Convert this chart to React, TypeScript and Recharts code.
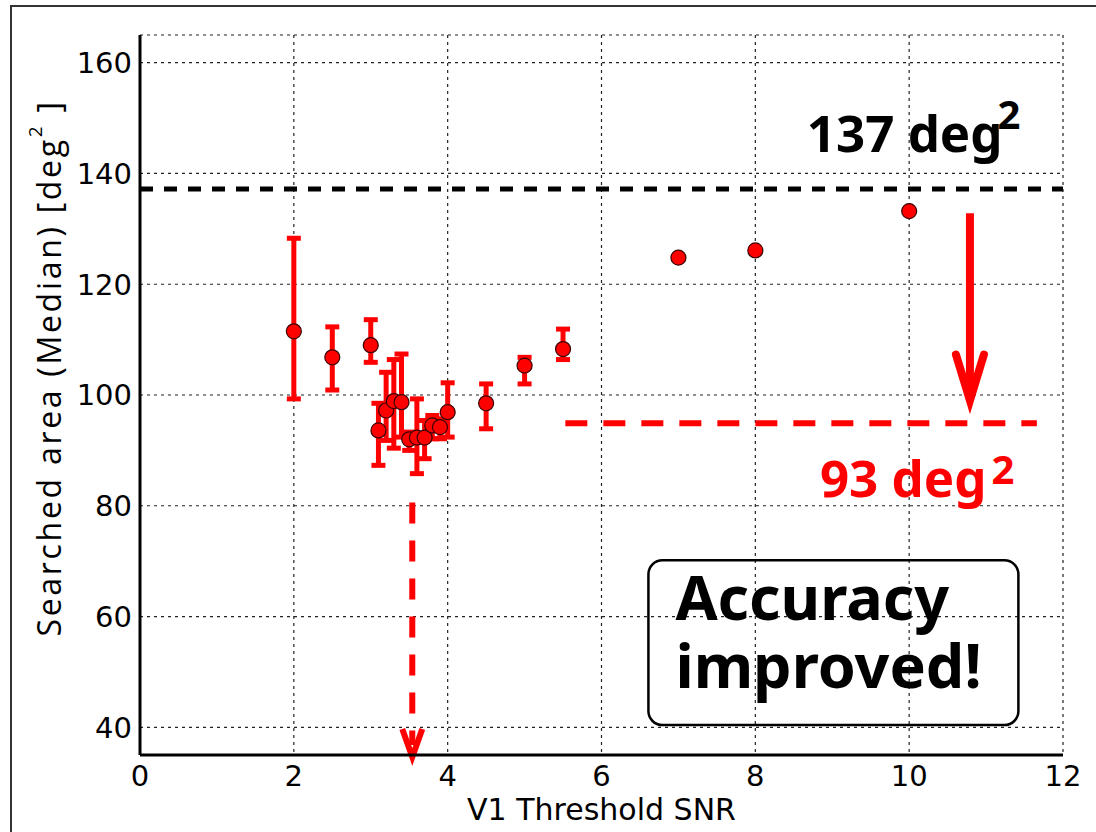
import React from "react";
import {
  ScatterChart,
  Scatter,
  ErrorBar,
  XAxis,
  YAxis,
  CartesianGrid,
  ReferenceLine,
  ReferenceDot,
  ReferenceArea,
  Label,
} from "recharts";

// V1 threshold SNR vs median searched area, with error bar bounds
const snr = [2, 2.5, 3, 3.1, 3.2, 3.3, 3.4, 3.5, 3.6, 3.7, 3.8, 3.9, 4, 4.5, 5, 5.5, 7, 8, 10];
const medianArea = [111.5, 106.8, 109.0, 93.6, 97.2, 98.9, 98.7, 92.0, 92.3, 92.3, 94.5, 94.2, 96.9, 98.5, 105.3, 108.3, 124.8, 126.1, 133.2];
const areaLow = [99.3, 100.9, 105.9, 87.3, 91.8, 90.4, 92.4, 90.0, 85.8, 88.5, 92.1, 92.1, 92.4, 93.9, 102.0, 106.4, null, null, null];
const areaHigh = [128.3, 112.3, 113.6, 98.5, 104.1, 106.4, 107.4, 93.3, 99.3, 95.4, 96.3, 95.7, 102.2, 102.0, 106.8, 111.9, null, null, null];

const xTicks = [0, 2, 4, 6, 8, 10, 12];
const yTicks = [40, 60, 80, 100, 120, 140, 160];

const baselineArea = 137.2;
const bestArea = 94.9;
const bestSnr = 3.54;

const data = snr.map((x, i) => ({
  x,
  y: medianArea[i],
  err:
    areaLow[i] == null
      ? null
      : [medianArea[i] - (areaLow[i] as number), (areaHigh[i] as number) - medianArea[i]],
}));

const RED = "#ff0000";
const axisFont = "'DejaVu Sans', sans-serif";
const noteFont = "'Noto Sans', 'DejaVu Sans', sans-serif";

const Marker = (p: any) => (
  <circle cx={p.cx} cy={p.cy} r={7.5} fill="#f00" stroke="#3a0000" strokeWidth={1.2} />
);

const SolidArrow = (p: any) => (
  <g>
    <line x1={p.x1} y1={p.y1} x2={p.x2} y2={p.y2 - 6} stroke={RED} strokeWidth={8} />
    <polyline
      points={`${p.x2 - 14},${p.y2 - 46} ${p.x2},${p.y2} ${p.x2 + 14},${p.y2 - 46}`}
      fill="none"
      stroke={RED}
      strokeWidth={8}
      strokeLinecap="round"
      strokeLinejoin="miter"
    />
  </g>
);

const DashedArrow = (p: any) => (
  <g>
    <line x1={p.x1} y1={p.y1} x2={p.x2} y2={p.y2 - 10} stroke={RED} strokeWidth={6} strokeDasharray="21 17" />
    <polyline
      points={`${p.x2 - 10},${p.y2 - 26} ${p.x2},${p.y2 + 2} ${p.x2 + 10},${p.y2 - 26}`}
      fill="none"
      stroke={RED}
      strokeWidth={6}
      strokeLinejoin="miter"
    />
  </g>
);

export default function App() {
  return (
    <div style={{ position: "relative", width: 1096, height: 832, overflow: "hidden", background: "#fff" }}>
      <style>{`body{margin:0}`}</style>
      <div
        style={{
          position: "absolute",
          left: 10,
          top: 5,
          right: -20,
          bottom: -20,
          border: "2px solid #333",
        }}
      />
      <div style={{ position: "absolute", left: 0, top: 0 }}>
        <ScatterChart width={1096} height={832} margin={{ top: 35, right: 33, bottom: 0, left: 0 }}>
          <CartesianGrid stroke="#222" strokeDasharray="3 4" strokeWidth={1.2} />
          <XAxis
            type="number"
            dataKey="x"
            domain={[0, 12]}
            ticks={xTicks}
            allowDataOverflow
            height={77}
            tickSize={0}
            tickMargin={10}
            tick={{ fill: "#000", fontSize: 29, fontFamily: axisFont }}
            axisLine={{ stroke: "#000", strokeWidth: 3 }}
          >
            <Label
              value="V1 Threshold SNR"
              position="insideBottom"
              offset={12}
              style={{ fill: "#000", fontSize: 30, fontFamily: axisFont }}
            />
          </XAxis>
          <XAxis
            xAxisId="top"
            orientation="top"
            type="number"
            domain={[0, 12]}
            height={0}
            tick={false}
            tickLine={false}
            axisLine={{ stroke: "#000", strokeWidth: 3 }}
          />
          <YAxis
            type="number"
            dataKey="y"
            domain={[35, 165]}
            ticks={yTicks}
            allowDataOverflow
            width={140}
            tickSize={0}
            tickMargin={8}
            tick={{ fill: "#000", fontSize: 29, fontFamily: axisFont }}
            axisLine={{ stroke: "#000", strokeWidth: 3 }}
          >
            <Label
              content={(props: any) => {
                const vb = props.viewBox || { x: 0, y: 35, width: 140, height: 720 };
                const cx = vb.x + 48;
                const cy = vb.y + vb.height / 2 - 27;
                return (
                  <text
                    transform={`translate(${cx}, ${cy}) rotate(-90)`}
                    textAnchor="middle"
                    dominantBaseline="central"
                    fill="#000"
                    style={{ fontSize: 32, fontFamily: "'Open Sans', sans-serif", letterSpacing: 2.7 }}
                  >
                    Searched area (Median) [deg
                    <tspan dy={-13} style={{ fontSize: 19 }}>2</tspan>
                    <tspan dy={13}>{"\u00a0]"}</tspan>
                  </text>
                );
              }}
            />
          </YAxis>
          <YAxis
            yAxisId="right"
            orientation="right"
            type="number"
            domain={[35, 165]}
            width={0}
            tick={false}
            tickLine={false}
            axisLine={{ stroke: "#000", strokeWidth: 3 }}
          />

          <ReferenceLine y={baselineArea} stroke="#000" strokeWidth={5} strokeDasharray="13 11" />
          <ReferenceLine
            segment={[
              { x: 5.53, y: bestArea },
              { x: 11.66, y: bestArea },
            ]}
            stroke={RED}
            strokeWidth={6}
            strokeDasharray="22 16"
          />
          <ReferenceLine
            segment={[
              { x: bestSnr, y: 80.6 },
              { x: bestSnr, y: 35 },
            ]}
            shape={DashedArrow}
          />
          <ReferenceLine
            segment={[
              { x: 10.79, y: 132.8 },
              { x: 10.79, y: 99.0 },
            ]}
            shape={SolidArrow}
          />

          <ReferenceDot
            x={8.67}
            y={143.8}
            r={0}
            shape={(p: any) => (
              <text x={p.cx} y={p.cy} fill="#000" style={{ fontSize: 51, fontWeight: 700, fontFamily: noteFont }}>
                137 deg
                <tspan dx={-5} dy={-23} style={{ fontSize: 40 }}>2</tspan>
              </text>
            )}
          />
          <ReferenceDot
            x={8.84}
            y={81.5}
            r={0}
            shape={(p: any) => (
              <text x={p.cx} y={p.cy} fill={RED} style={{ fontSize: 51, fontWeight: 700, fontFamily: noteFont }}>
                93 deg
                <tspan dx={5} dy={-13} style={{ fontSize: 40 }}>2</tspan>
              </text>
            )}
          />
          <ReferenceArea
            x1={6.61}
            x2={11.42}
            y1={40.4}
            y2={70.15}
            shape={(p: any) => (
              <g>
                <rect
                  x={p.x}
                  y={p.y}
                  width={p.width}
                  height={p.height}
                  rx={14}
                  ry={14}
                  fill="none"
                  stroke="#000"
                  strokeWidth={2.5}
                />
                <text x={p.x + 27} y={p.y + 60} fill="#000" style={{ fontSize: 61, fontWeight: 700, fontFamily: noteFont }}>
                  Accuracy
                </text>
                <text x={p.x + 27} y={p.y + 128} fill="#000" style={{ fontSize: 61, fontWeight: 700, fontFamily: noteFont }}>
                  improved!
                </text>
              </g>
            )}
          />

          <Scatter data={data} shape={Marker} isAnimationActive={false}>
            <ErrorBar dataKey="err" direction="y" stroke={RED} strokeWidth={5} width={7} />
          </Scatter>
        </ScatterChart>
      </div>
    </div>
  );
}
